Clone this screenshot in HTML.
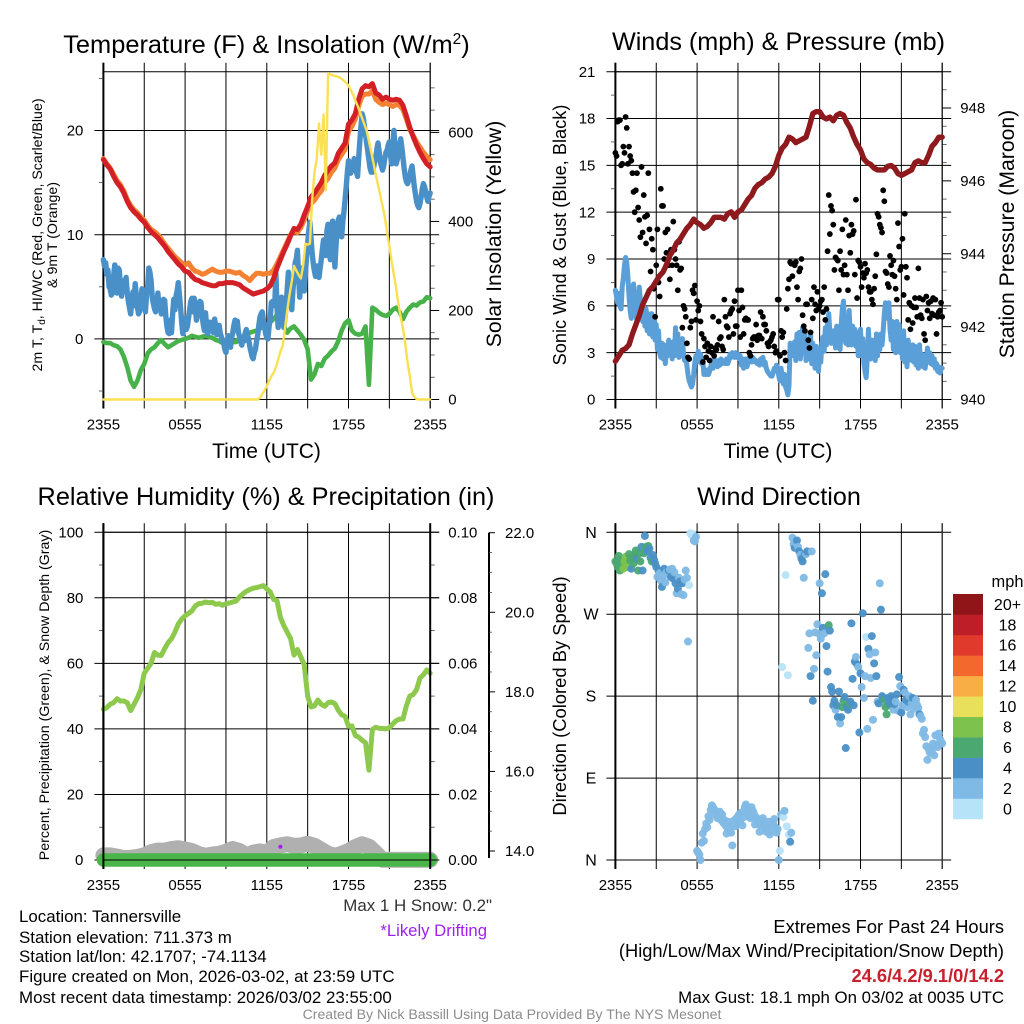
<!DOCTYPE html>
<html lang="en">
<head>
<meta charset="utf-8">
<title>Tannersville Meteogram</title>
<style>
html,body{margin:0;padding:0;background:#fff;}
svg{display:block;font-family:"Liberation Sans",Arial,sans-serif;}
</style>
</head>
<body>
<svg id="fig" xmlns="http://www.w3.org/2000/svg" width="1024" height="1024" viewBox="0 0 1024 1024">
<rect x="0" y="0" width="1024" height="1024" fill="#ffffff"/>
<text x="266.5" y="53" font-size="25.4" text-anchor="middle" fill="#000">Temperature (F) &amp; Insolation (W/m<tspan font-size="15.5" dy="-9">2</tspan><tspan dy="9">)</tspan></text>
<text x="778.5" y="50" font-size="25.2" text-anchor="middle" fill="#000">Winds (mph) &amp; Pressure (mb)</text>
<text x="266" y="505" font-size="25.3" text-anchor="middle" fill="#000">Relative Humidity (%) &amp; Precipitation (in)</text>
<text x="779" y="505" font-size="25.2" text-anchor="middle" fill="#000">Wind Direction</text>
<text x="266.5" y="458" font-size="21" text-anchor="middle">Time (UTC)</text>
<text x="778" y="458" font-size="21" text-anchor="middle">Time (UTC)</text>
<text transform="translate(42,235) rotate(-90)" font-size="14.2" text-anchor="middle">2m T, T<tspan font-size="10" dy="3">d</tspan><tspan dy="-3">, HI/WC (Red, Green, Scarlet/Blue)</tspan></text>
<text transform="translate(57,235) rotate(-90)" font-size="14.2" text-anchor="middle">&amp; 9m T (Orange)</text>
<text transform="translate(501,234) rotate(-90)" font-size="21.2" text-anchor="middle">Solar Insolation (Yellow)</text>
<text transform="translate(566,235) rotate(-90)" font-size="18.2" text-anchor="middle">Sonic Wind &amp; Gust (Blue, Black)</text>
<text transform="translate(1014,234) rotate(-90)" font-size="21.2" text-anchor="middle">Station Pressure (Maroon)</text>
<text transform="translate(49,695) rotate(-90)" font-size="14.2" text-anchor="middle">Percent, Precipitation (Green), &amp; Snow Depth (Gray)</text>
<text transform="translate(566,696) rotate(-90)" font-size="18.4" text-anchor="middle">Direction (Colored By Speed)</text>
<text x="492" y="911" font-size="16.9" text-anchor="end" fill="#333">Max 1 H Snow: 0.2"</text>
<text x="487" y="936" font-size="16.7" text-anchor="end" fill="#a020f0">*Likely Drifting</text>
<text x="19" y="922" font-size="16.9">Location: Tannersville</text>
<text x="19" y="943" font-size="16.9">Station elevation: 711.373 m</text>
<text x="19" y="962" font-size="16.9">Station lat/lon: 42.1707; -74.1134</text>
<text x="19" y="982" font-size="16.9">Figure created on Mon, 2026-03-02, at 23:59 UTC</text>
<text x="19" y="1003" font-size="16.9">Most recent data timestamp: 2026/03/02 23:55:00</text>
<text x="1004" y="933" font-size="18.3" text-anchor="end">Extremes For Past 24 Hours</text>
<text x="1004" y="957" font-size="18.3" text-anchor="end">(High/Low/Max Wind/Precipitation/Snow Depth)</text>
<text x="1004" y="982" font-size="18.3" font-weight="bold" text-anchor="end" fill="#c8202c">24.6/4.2/9.1/0/14.2</text>
<text x="1004" y="1003" font-size="16.85" text-anchor="end">Max Gust: 18.1 mph On 03/02 at 0035 UTC</text>
<text x="512" y="1019" font-size="14.1" text-anchor="middle" fill="#8c8c8c">Created By Nick Bassill Using Data Provided By The NYS Mesonet</text>
<text x="1007.5" y="587" font-size="16.4" text-anchor="middle">mph</text>
</svg>
<script>
const hourTicks = [0,3,6,9,12,15,18,21,24];
const hourLabels = ["2355","","0555","","1155","","1755","","2355"];

const tempTicks = [0,10,20];
const tempMinorTicks = [-5,5,15,25];
const solarTicks = [0,200,400,600];
const solarMinorTicks = [50,100,150,250,300,350,450,500,550,650,700];
const windTicks = [0,3,6,9,12,15,18,21];
const windMinorTicks = [1.5,4.5,7.5,10.5,13.5,16.5,19.5];
const pressureTicks = [940,942,944,946,948];
const pressureMinorTicks = [940.5,941,941.5,942.5,943,943.5,944.5,945,945.5,946.5,947,947.5,948.5];
const rhTicks = [0,20,40,60,80,100];
const rhMinorTicks = [10,30,50,70,90];
const precipTicks = [0,0.02,0.04,0.06,0.08,0.10];
const precipMinorTicks = [0.01,0.03,0.05,0.07,0.09];
const depthTicks = [14,16,18,20,22];
const depthMinorTicks = [14.5,15,15.5,16.5,17,17.5,18.5,19,19.5,20.5,21,21.5];
const dirTicks = [0,90,180,270,360];
const dirLabels = ["N","E","S","W","N"];

const airTemp = [17.2,16.7,16.3,15.6,15.0,14.6,14.0,13.2,12.6,12.2,11.9,11.5,11.2,10.7,10.3,10.0,9.7,9.3,8.9,8.4,8.0,7.6,7.2,6.9,6.5,6.4,6.0,5.7,5.6,5.4,5.3,5.2,5.1,5.1,5.3,5.3,5.4,5.4,5.4,5.3,5.2,4.9,4.7,4.5,4.3,4.4,4.5,4.6,4.8,5.1,5.8,6.8,7.6,8.4,9.1,9.9,10.6,10.5,11.0,11.9,12.7,13.6,14.0,14.5,15.0,15.7,16.2,16.6,16.9,17.8,18.3,18.8,20.6,21.0,21.6,23.0,24.0,24.3,24.2,24.5,23.6,23.4,23.0,23.2,23.0,22.9,23.0,22.9,22.4,21.4,20.3,19.4,18.6,17.9,17.3,16.8,16.5];
const temp9m = [17.3,16.8,16.4,15.8,15.2,14.8,14.2,13.4,12.8,12.4,12.1,11.7,11.4,10.9,10.5,10.3,10.0,9.6,9.1,8.7,8.3,7.9,7.6,7.3,7.1,7.3,6.8,6.5,6.4,6.2,6.3,6.5,6.7,6.5,6.4,6.4,6.5,6.5,6.4,6.3,6.4,6.1,5.9,5.6,6.0,6.3,6.3,6.2,6.3,6.3,6.6,7.2,7.9,8.6,9.3,10.0,10.3,10.2,10.7,11.4,12.3,13.0,13.3,13.8,14.2,15.0,15.4,16.0,16.4,17.2,17.7,18.2,19.9,20.4,21.1,22.4,23.3,23.5,23.5,23.8,23.0,22.7,22.5,22.6,22.5,22.3,22.5,22.4,22.0,21.1,20.1,19.5,18.9,18.4,17.9,17.5,17.2];
const windChill = [7.6,7.0,7.3,6.2,6.6,5.0,4.8,4.2,4.4,6.0,
7.1,5.6,4.4,6.8,6.6,5.0,4.1,5.2,5.6,4.6,5.9,4.4,3.6,
3.0,2.4,3.5,4.5,3.2,5.3,4.1,3.0,2.4,2.7,3.8,4.8,3.6,3.4,2.6,4.2,5.0,
6.8,6.4,5.6,4.0,3.4,2.9,2.6,3.6,4.4,3.0,3.5,2.4,3.0,3.8,3.7,2.2,
1.2,0.6,0.5,1.8,0.6,2.4,3.8,2.8,4.1,4.6,5.4,4.2,3.0,1.6,0.5,1.4,2.0,0.9,1.2,2.0,2.8,3.6,3.9,
2.6,3.9,3.1,1.8,2.4,3.0,3.6,3.5,2.2,1.4,0.8,2.5,1.2,0.5,0.9,1.6,1.1,1.0,0.6,1.9,1.2,
0.4,0.9,1.3,0.5,0.2,-0.2,-0.4,-1.0,-1.3,-0.2,0.3,-0.5,-0.8,0.1,0.6,1.3,1.8,0.9,1.7,0.6,
0.2,-0.3,-0.6,0.2,-0.2,0.6,0.9,0.3,0.0,-0.7,-1.2,-1.7,-1.9,-1.3,-1.0,-0.2,0.4,1.3,2.1,2.4,
2.6,1.8,1.2,0.5,0.1,0.0,1.2,1.9,3.5,3.6,3.4,3.2,
6.3,3.0,1.1,2.2,3.3,4.0,3.0,
1.1,2.0,3.1,4.8,6.4,5.2,4.2,2.8,4.6,6.0,7.3,7.7,8.5,6.0,4.0,5.6,6.8,5.4,4.6,6.2,7.8,
9.2,10.4,11.2,9.6,8.2,7.2,6.5,6.0,7.0,6.2,5.9,6.8,7.6,8.6,9.5,8.4,8.0,10.4,11.0,8.4,
7.6,10.5,11.3,8.8,6.9,9.0,10.5,11.4,11.7,9.9,9.8,11.3,12.2,13.4,14.6,16.0,17.1,16.3,15.9,16.4,
16.5,17.3,17.1,16.0,15.6,17.4,19.0,20.4,21.6,21.2,20.4,19.6,18.8,18.0,17.2,16.4,16.0,16.0,16.4,17.0,
17.4,18.2,18.8,18.0,17.0,16.6,16.2,16.6,17.3,17.9,18.1,18.6,18.9,17.7,16.8,18.4,20.0,18.4,16.8,17.2,
17.9,18.6,19.2,18.4,17.4,16.4,15.6,15.1,14.9,15.2,15.6,16.2,16.6,15.6,14.6,13.9,13.2,12.8,12.6,13.0,
13.6,14.4,14.9,14.6,14.2,13.6,13.2,13.7,14.0];
const dewPoint = [-0.3,-0.4,-0.4,-0.6,-0.7,-1.0,-1.7,-2.7,-4.0,-4.6,-4.0,-3.0,-2.4,-1.4,-1.0,-0.8,-0.4,-0.1,-0.5,-0.8,-0.6,-0.4,-0.2,-0.1,0.0,0.1,0.3,0.2,0.1,0.2,0.3,0.2,0.1,-0.1,-0.2,-0.4,-0.2,-0.1,-0.3,-0.3,0.1,0.2,0.4,0.6,0.7,0.8,1.0,1.2,1.3,1.6,1.9,2.3,2.5,1.2,0.6,1.0,1.2,0.8,0.4,-0.1,-1.0,-3.9,-3.4,-2.4,-2.6,-1.9,-1.6,-1.2,-0.9,-0.2,0.8,1.5,1.8,0.8,0.5,0.4,0.5,1.2,-4.4,3.0,2.8,2.5,2.3,2.2,2.4,2.8,3.0,2.6,1.9,2.6,3.0,3.3,3.2,3.5,3.6,4.0,3.9];
const insolation = [0,0,0,0,0,0,0,0,0,0,0,0,0,0,0,0,0,0,0,0,0,0,0,0,0,0,0,0,0,0,0,0,0,0,0,0,0,0,0,0,0,0,0,0,0,0,0,0,0,0,0,0,0,0,0,0,0,0,0,0,0,0,0,0,0,0,0,0,0,4,12,20,30,42,52,60,72,90,108,120,160,200,235,265,300,290,280,272,300,350,348,350,450,510,540,620,550,640,470,733,730,728,727,725,724,720,716,712,705,695,685,672,660,646,632,618,604,580,556,532,505,482,458,435,410,375,345,310,280,250,215,185,160,125,85,52,15,6,1,0,0,0,0,0,0];

const sonicWind = [7.0,6.6,6.2,6.8,6.0,5.8,7.2,7.8,8.6,9.1,8.8,7.9,6.6,5.7,5.2,6.6,7.4,6.2,5.5,5.0,6.0,7.2,6.4,5.3,
5.0,5.9,4.7,5.8,4.4,5.5,4.2,5.1,5.5,4.0,5.2,3.8,4.8,3.2,4.4,3.0,2.7,3.6,2.6,3.5,2.3,3.2,2.8,3.8,
2.9,3.6,2.6,3.7,2.8,4.6,3.0,4.2,2.7,3.8,2.8,3.9,3.0,2.5,2.7,2.2,1.6,1.2,1.0,0.8,1.0,1.6,2.4,2.8,
2.6,3.1,2.4,2.9,2.3,2.6,1.6,1.7,1.6,1.9,1.6,1.8,2.1,2.4,2.0,2.6,2.2,2.4,2.1,2.5,2.2,2.6,2.3,2.5,
2.4,2.3,2.6,2.3,2.5,2.9,2.7,3.0,2.8,2.7,3.0,2.7,2.9,2.6,2.8,2.2,2.6,2.0,2.2,2.6,2.1,2.4,2.7,2.6,
2.4,2.7,2.6,2.4,2.5,2.3,2.4,2.2,2.6,2.5,2.7,2.2,2.4,2.0,1.8,1.7,1.6,1.5,1.5,1.7,2.0,1.9,2.2,2.0,
1.5,1.2,2.0,1.4,1.0,1.6,0.8,0.6,0.3,0.9,3.6,3.0,3.4,2.8,3.7,2.5,4.2,3.0,4.3,2.6,3.5,4.6,3.2,4.4,
2.5,3.7,2.6,3.2,4.2,2.3,3.6,2.6,2.0,3.4,2.2,1.8,3.2,2.4,3.6,4.0,3.1,4.6,3.5,4.9,5.5,4.3,3.6,4.4,
3.6,4.4,3.3,4.7,3.5,4.4,3.2,4.8,5.8,6.3,4.4,3.6,5.0,3.5,5.7,4.1,3.5,4.7,3.6,4.5,3.4,4.3,2.8,3.6,
4.5,2.8,3.9,2.3,1.8,1.4,2.6,4.5,3.0,2.6,3.8,2.9,3.5,2.5,4.2,2.8,4.0,3.2,4.2,3.5,4.4,5.5,6.2,6.0,
5.2,6.2,4.5,3.8,5.0,3.2,4.6,3.0,5.0,3.4,4.8,3.0,4.2,2.6,4.4,2.4,3.6,2.1,3.8,2.9,3.2,2.5,3.5,2.4,
3.4,2.2,3.1,2.0,3.5,2.4,2.9,2.1,2.7,2.0,2.6,3.3,2.4,3.0,2.3,2.8,2.2,2.6,2.0,2.3,1.8,2.1,1.7,2.0,2.0];
const windGust = [15.8,15.6,17.8,17.9,17.9,15.0,15.1,16.2,15.8,18.1,17.4,15.1,16.2,15.6,15.3,14.5,13.3,12.0,13.4,14.5,12.3,11.5,10.4,14.9,
10.7,13.1,11.7,10.0,11.8,14.5,10.9,8.2,10.3,9.6,7.1,5.3,8.6,10.9,7.5,6.6,13.5,12.4,12.4,9.0,10.7,9.4,10.9,8.6,
7.7,9.6,8.6,11.4,9.6,9.0,8.6,7.0,10.1,8.3,8.4,4.6,6.0,5.8,5.3,3.6,2.7,2.6,4.6,5.0,7.0,6.8,7.3,5.1,
6.3,5.7,6.0,5.0,4.2,2.4,3.9,3.4,2.7,3.6,3.1,2.5,3.4,3.0,5.3,2.8,3.3,3.2,3.5,5.0,3.9,4.0,3.4,3.2,
6.4,5.3,4.7,4.6,4.0,5.5,5.7,5.8,4.2,6.3,4.7,4.7,7.0,5.7,4.0,7.0,5.9,4.2,5.1,5.2,5.1,5.1,3.0,2.8,
3.5,3.9,4.0,4.0,4.8,3.8,4.1,4.1,5.6,3.9,5.3,4.8,4.8,4.4,3.6,3.4,3.7,3.8,4.0,4.2,3.4,3.0,3.1,6.4,
6.4,2.8,4.4,4.0,4.3,3.0,2.5,5.8,7.1,7.7,8.8,8.7,7.9,8.7,8.6,8.8,7.2,6.4,8.2,8.4,9.0,5.4,4.7,4.4,
6.1,6.1,3.8,3.3,4.3,6.4,5.2,7.2,6.1,5.7,6.9,5.8,6.0,6.3,6.4,5.6,7.2,5.1,5.8,9.5,13.1,10.6,12.4,12.1,
11.2,8.3,9.1,9.0,8.9,7.0,9.5,8.3,10.9,8.0,8.6,11.5,8.0,7.0,10.5,9.4,11.2,10.6,10.8,8.0,12.8,6.5,8.9,8.8,
8.5,7.2,8.1,7.8,8.7,8.1,8.3,7.2,6.9,6.9,6.4,6.1,7.1,7.9,9.3,11.9,11.7,11.2,11.0,10.7,13.4,12.7,8.2,8.1,
7.4,7.2,9.2,8.6,8.0,8.9,7.9,7.1,6.4,11.3,9.8,8.3,8.5,10.3,6.7,11.9,8.5,7.8,5.1,6.2,4.5,6.0,4.9,5.9,
6.5,5.9,5.3,8.4,6.5,5.4,5.2,6.4,4.2,3.8,6.6,5.7,6.2,5.2,6.3,5.5,6.5,5.4,6.4,4.2,5.3,5.6,5.7,6.2,5.3];
const stationPressure = [941.05,941.2,941.35,941.4,941.5,941.8,942.05,942.3,942.6,942.8,943.0,943.1,943.25,943.4,943.5,943.7,943.95,944.1,944.3,944.4,944.55,944.7,944.8,944.95,944.85,944.8,944.7,944.75,944.85,945,945,945,944.95,945.1,945.15,945.0,945.15,945.2,945.35,945.5,945.6,945.8,945.9,945.95,946.05,946.1,946.2,946.4,946.7,946.9,947.0,947.2,947.15,947.05,947.1,947.15,947.2,947.5,947.85,947.9,947.9,947.75,947.7,947.75,947.65,947.8,947.85,947.8,947.6,947.45,947.2,947.0,946.85,946.6,946.5,946.45,946.35,946.3,946.3,946.3,946.4,946.42,946.35,946.2,946.15,946.2,946.25,946.3,946.5,946.55,946.5,946.5,946.7,946.95,947.05,947.2,947.2];

const relHumidity = [46,46.5,47.5,48,49.2,48.5,48.5,48,45.6,47.5,49.5,52,57,58.5,60,63.3,62.5,62.4,64.5,66.3,67.5,69.5,72,73.5,74.5,75.2,76,77.5,78.2,78.3,78.7,78.5,78.6,78,78.2,77.7,78.2,78.4,78.7,79,80.3,81.2,82,82.5,82.9,83.1,83.4,83.7,82.7,81.8,79.5,79.1,74,71.5,69.5,67.5,62.5,64.2,62,59.5,50,46.7,47,48.8,47.5,46.9,48,48.2,47.7,45.7,44.3,43.8,40.8,40.9,38,37.5,36.5,35.8,27.4,39.8,40.5,40.2,40.1,40,40.3,41.5,42.5,43,43,47,50,50.5,52,55.5,56.5,58,57];
const snowDepth = [13.89,13.89,13.86,13.82,13.83,13.85,13.89,13.97,14.01,14.01,14.05,14.07,14.04,14.0,13.92,13.88,13.91,13.93,13.98,14.05,14.0,13.88,13.96,13.99,13.95,14.10,14.14,14.17,14.13,14.14,14.18,14.13,14.03,13.93,13.88,13.93,14.0,14.1,14.17,14.11,13.95,13.78,13.78,13.78,13.78,13.78,13.78,13.78,13.78];
const precipitation = [0,0,0,0,0,0,0,0,0,0,0,0,0,0,0,0,0,0,0,0,0,0,0,0,0];
const driftHours = [13];
const driftPercent = [4.05];

const windDirection = [328,326,322,334,318,330,325,320,328,333,330,322,336,329,320,332,326,335,340,331,318,337,328,344,
318,337,356,344,339,345,342,332,328,335,330,326,322,311,318,315,307,300,312,320,305,316,314,318,
319,311,320,309,316,304,293,298,310,306,292,304,291,308,318,310,240,302,359,357,358,351,350,355,
10,8,6,0,19,29,21,34,40,36,48,44,55,60,58,56,50,52,46,49,53,44,50,41,
44,38,29,34,42,36,30,16,40,44,37,46,48,50,42,52,38,47,58,61,55,48,51,46,
58,54,51,39,47,44,40,31,38,43,46,40,35,31,37,42,28,33,39,41,45,36,30,34,
0,10,50,212,47,54,313,37,203,28,20,30,354,347,343,348,351,344,339,335,331,328,310,336,
336,339,233,249,202,339,175,210,250,225,259,249,304,243,293,255,249,314,235,207,258,252,190,185,
170,175,165,170,157,185,150,157,168,175,179,123,168,165,172,174,260,199,170,218,223,215,212,140,
205,190,271,178,202,245,144,232,226,200,246,154,216,228,202,174,172,304,275,180,178,176,168,160,
178,170,172,180,176,165,171,174,182,164,201,191,162,170,187,184,176,168,174,180,160,172,178,166,
172,176,170,167,160,158,155,139,143,135,125,110,122,118,123,119,128,115,137,126,124,139,133,130,128];

const speedBinLabels = ["0","2","4","6","8","10","12","14","16","18","20+"];
const speedBinColors = ["#b7e3f8","#7fb9e5","#4a90c6","#4aa870","#7cc24c","#e8e05a","#f9ad45","#f3692d","#e03a2c","#bd1e27","#8f1519"];

const svg = document.getElementById('fig');
const NS = 'http://www.w3.org/2000/svg';

function linear(d0, d1, r0, r1) {
  return function (v) { return r0 + (v - d0) * (r1 - r0) / (d1 - d0); };
}
function add(tag, name, attrs, text) {
  const el = document.createElementNS(NS, tag);
  
  
  for (const k in attrs) el.setAttribute(k, attrs[k]);
  if (text !== undefined) el.textContent = text;
  svg.appendChild(el);
  return el;
}
function seg(name, x1, y1, x2, y2, w, color) {
  return add('line', name, { x1: x1, y1: y1, x2: x2, y2: y2, stroke: color || '#000', 'stroke-width': w || 1 });
}
function label(name, x, y, str, anchor, size) {
  return add('text', name, { x: x, y: y, 'font-size': size || 15, 'text-anchor': anchor || 'middle', fill: '#000' }, str);
}
function seriesPath(name, values, xs, ys, color, width) {
  const n = values.length;
  const pts = values.map(function (v, i) { return xs(i / (n - 1) * 24).toFixed(2) + ',' + ys(v).toFixed(2); });
  return add('polyline', name, { points: pts.join(' '), fill: 'none', stroke: color, 'stroke-width': width, 'stroke-linejoin': 'round', 'stroke-linecap': 'round' });
}

function frame(key, box, xs, leftTicks, leftScale, leftFmt) {
  hourTicks.forEach(function (h) {
    seg(key + '-vertical-grid-' + h, xs(h), box.top - 9, xs(h), box.bottom + 9, 1);
  });
  leftTicks.forEach(function (t, i) {
    seg(key + '-horizontal-grid-' + t, box.left - 9, leftScale(t), box.right + 9, leftScale(t), 1);
    label(key + '-y-tick-label', box.left - 20, leftScale(t) + 5.2, leftFmt(t, i), 'end');
  });
  seg(key + '-top-border', box.left, box.top, box.right, box.top, 1);
  seg(key + '-bottom-border', box.left, box.bottom, box.right, box.bottom, 1);
  seg(key + '-left-border', box.left, box.top - 9, box.left, box.bottom + 9, 2);
  hourLabels.forEach(function (s, i) {
    if (s) label(key + '-x-tick-label', xs(hourTicks[i]), box.bottom + 30, s);
  });
}
function minorLeft(key, box, ticks, scale) {
  ticks.forEach(function (t) { seg(key + '-left-minor-tick', box.left - 4.5, scale(t), box.left, scale(t), 0.8, '#444'); });
}
function rightAxis(key, box, major, minor, scale, fmt) {
  major.forEach(function (t) {
    seg(key + '-right-major-tick', box.right, scale(t), box.right + 9, scale(t), 1);
    label(key + '-right-tick-label', box.right + 18, scale(t) + 5.2, fmt(t), 'start');
  });
  minor.forEach(function (t) { seg(key + '-right-minor-tick', box.right, scale(t), box.right + 4.5, scale(t), 0.8, '#444'); });
}

const xL = linear(0, 24, 103.4, 430.2);
const xR = linear(0, 24, 615.4, 942.2);

/* Temperature & insolation */
const boxA = { left: 103.4, right: 430.2, top: 71.7, bottom: 399.5 };
const yTemp = linear(0, 10, 338.9, 234.7);
const ySolar = linear(0, 600, 399.5, 132.4);
frame('temperature', boxA, xL, tempTicks, yTemp, function (t) { return String(t); });
minorLeft('temperature', boxA, tempMinorTicks, yTemp);
rightAxis('insolation', boxA, solarTicks, solarMinorTicks, ySolar, function (t) { return String(t); });
seg('temperature-right-border', boxA.right, boxA.top - 9, boxA.right, boxA.bottom + 9, 1);
seriesPath('dew-point-line', dewPoint, xL, yTemp, '#47b24a', 4.6);
seriesPath('wind-chill-line', windChill, xL, yTemp, '#4a90c8', 5.4);
seriesPath('temperature-9m-line', temp9m, xL, yTemp, '#f58233', 5);
seriesPath('temperature-2m-line', airTemp, xL, yTemp, '#d32027', 5);
seriesPath('insolation-line', insolation, xL, ySolar, '#fae052', 2.4);

/* Winds & pressure */
const boxB = { left: 615.4, right: 942.2, top: 71.7, bottom: 399.5 };
const yWind = linear(0, 21, 399.5, 71.7);
const yPressure = linear(940, 948, 399.5, 108);
frame('winds', boxB, xR, windTicks, yWind, function (t) { return String(t); });
minorLeft('winds', boxB, windMinorTicks, yWind);
rightAxis('pressure', boxB, pressureTicks, pressureMinorTicks, yPressure, function (t) { return String(t); });
seg('winds-right-border', boxB.right, boxB.top - 9, boxB.right, boxB.bottom + 9, 1);
seriesPath('sonic-wind-line', sonicWind, xR, yWind, '#5a9fd8', 5);
windGust.forEach(function (v, i) {
  add('circle', 'gust-point', { cx: xR(i / (windGust.length - 1) * 24).toFixed(2), cy: yWind(v).toFixed(2), r: 2.9, fill: '#000' });
});
seriesPath('station-pressure-line', stationPressure, xR, yPressure, '#8e1a1e', 5.4);

/* Humidity & precipitation */
const boxC = { left: 103.4, right: 430.2, top: 532.2, bottom: 860 };
const yRh = linear(0, 100, 860, 532.2);
const yPrecip = linear(0, 0.1, 860, 532.2);
const yDepth = linear(14, 22, 851, 532.7);
frame('humidity', boxC, xL, rhTicks, yRh, function (t) { return String(t); });
minorLeft('humidity', boxC, rhMinorTicks, yRh);
rightAxis('precipitation', boxC, precipTicks, precipMinorTicks, yPrecip, function (t) { return t.toFixed(2); });
seriesPath('relative-humidity-line', relHumidity, xL, yRh, '#8dc94c', 5);
seriesPath('snow-depth-line', snowDepth, xL, yDepth, '#b0b0b0', 16);
seriesPath('precipitation-line', precipitation, xL, yPrecip, '#4ab548', 13.4);
driftHours.forEach(function (h, i) {
  add('circle', 'drifting-snow-point', { cx: xL(h), cy: yRh(driftPercent[i]), r: 2, fill: '#a020f0' });
});
seg('humidity-bottom-axis-overlay', boxC.left, boxC.bottom, boxC.right + 9, boxC.bottom, 1);
seg('humidity-left-axis-overlay', boxC.left, boxC.top - 9, boxC.left, boxC.bottom + 9, 2);
seg('humidity-right-border', boxC.right, boxC.top - 9, boxC.right, boxC.bottom + 9, 2);
seg('snow-depth-axis-line', 489, yDepth(22), 489, yDepth(14) + 7, 2);
depthTicks.forEach(function (t) {
  seg('snow-depth-major-tick', 489, yDepth(t), 495, yDepth(t), 1);
  label('snow-depth-tick-label', 505, yDepth(t) + 5.2, t.toFixed(1), 'start');
});
depthMinorTicks.forEach(function (t) {
  seg('snow-depth-minor-tick', 489, yDepth(t), 492, yDepth(t), 0.8, '#444');
});

/* Wind direction */
const boxD = { left: 615.4, right: 942.2, top: 532.3, bottom: 860 };
const yDir = linear(0, 360, 860, 532.3);
frame('direction', boxD, xR, [], yDir, String);
dirTicks.forEach(function (t, i) {
  seg('direction-horizontal-grid', boxD.left - 9, yDir(t), boxD.right + 9, yDir(t), 1);
  label('direction-tick-label', 591, yDir(t) + 5.5, dirLabels[i], 'middle', 16);
});
seg('direction-right-border', boxD.right, boxD.top - 9, boxD.right, boxD.bottom + 9, 1.4, '#333');
windDirection.forEach(function (d, i) {
  const f = i / (windDirection.length - 1);
  const speed = sonicWind[Math.round(f * (sonicWind.length - 1))];
  const bin = Math.min(speedBinColors.length - 1, Math.floor((speed + 0.5) / 2));
  add('circle', 'wind-direction-point', { cx: xR(f * 24).toFixed(2), cy: yDir(d).toFixed(2), r: 4, fill: speedBinColors[bin], 'fill-opacity': 0.95 });
});

/* Speed legend */
const legendTop = 594;
const legendStep = 20.45;
speedBinLabels.forEach(function (s, i) {
  const row = speedBinLabels.length - 1 - i;
  add('rect', 'legend-swatch-' + s, { x: 953, y: legendTop + row * legendStep, width: 30, height: legendStep + 0.3, fill: speedBinColors[i] });
  label('legend-label-' + s, 1007.5, legendTop + row * legendStep + 15.8, s, 'middle', 16);
});
</script>
</body>
</html>
